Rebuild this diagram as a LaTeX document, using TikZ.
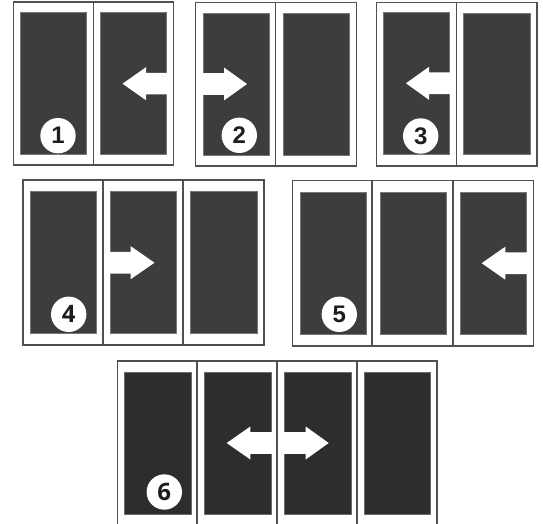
\documentclass[tikz,border=0pt]{standalone}
\usepackage{fontspec}
\setmainfont{Liberation Sans}
\newfontfamily\altdigit{Open Sans}
\definecolor{paneA}{HTML}{3D3D3D}
\definecolor{paneB}{HTML}{2E2C2D}
\definecolor{frameC}{HTML}{505050}
\definecolor{digitC}{HTML}{1D1D1B}
\tikzset{
  frameline/.style={draw=frameC,line width=1.9pt,fill=none},
  panedark/.style={fill=paneA,draw=paneA!70!white,line width=0.5pt},
  panedarker/.style={fill=paneB,draw=paneB!70!white,line width=0.5pt},
  arrowwhite/.style={fill=white,draw=none},
  badge/.style={circle,fill=white,draw=none,minimum size=35.4pt,inner sep=0pt,text=digitC,font=\fontsize{24}{24}\selectfont\bfseries},
  badgealt/.style={badge,font=\fontsize{24}{24}\selectfont\altdigit\bfseries}
}
% \arrowL{tip x}{back x}{shaft end x}{centre y}
\newcommand{\arrowL}[4]{\fill[arrowwhite] (#1,#4) -- (#2,#4-16.5) -- (#2,#4-10.8) -- (#3,#4-10.8) -- (#3,#4+10.8) -- (#2,#4+10.8) -- (#2,#4+16.5) -- cycle;}
\begin{document}
\begin{tikzpicture}[x=1pt,y=-1pt]
\useasboundingbox (0,0) rectangle (543,524);
\fill[white] (0,0) rectangle (543,524);
% panel 1
\fill[panedark] (20.5,12.5) rectangle (86.5,154.5);
\fill[panedark] (100.5,12.5) rectangle (166.5,154.5);
\arrowL{122.5}{146}{167.5}{83.7}
\draw[frameline] (13.5,2) rectangle (173.5,165);
\draw[frameline] (93.5,2) -- (93.5,165);
\node[badge] (n1) at (58,135.7) {1};
% panel 2
\fill[panedark] (203,13.5) rectangle (269.5,155);
\fill[panedark] (283,13.5) rectangle (349.5,155);
\arrowL{247}{224}{202}{84}
\draw[frameline] (195.5,2.5) rectangle (356.5,166);
\draw[frameline] (275.5,2.5) -- (275.5,166);
\node[badge] (n2) at (239.3,135.3) {2};
% panel 3
\fill[panedark] (383.5,12.5) rectangle (449.5,154.5);
\fill[panedark] (463.5,13) rectangle (530,154.5);
\arrowL{406}{429}{450.5}{83.3}
\draw[frameline] (376.5,2.5) rectangle (537,166);
\draw[frameline] (456.5,2.5) -- (456.5,166);
\node[badge] (n3) at (420.7,136) {3};
% panel 4
\fill[panedark] (30.3,191.5) rectangle (96.7,333.5);
\fill[panedark] (110.3,191.5) rectangle (176.5,333.5);
\fill[panedark] (190.3,191.5) rectangle (257,333.5);
\arrowL{154.5}{130.7}{109.5}{262.7}
\draw[frameline] (23.3,180) rectangle (264,345);
\draw[frameline] (102.8,180) -- (102.8,345);
\draw[frameline] (183,180) -- (183,345);
\node[badgealt] (n4) at (68.7,314.3) {4};
% panel 5
\fill[panedark] (300,192.3) rectangle (366,334);
\fill[panedark] (380,192.3) rectangle (446,334);
\fill[panedark] (460,192.3) rectangle (526,334);
\arrowL{481.7}{505.3}{527}{263.2}
\draw[frameline] (292.5,180.5) rectangle (533.5,345.7);
\draw[frameline] (372.3,180.5) -- (372.3,345.7);
\draw[frameline] (452.7,180.5) -- (452.7,345.7);
\node[badge] (n5) at (339.3,314.3) {5};
% panel 6
\fill[panedarker] (124.3,372.3) rectangle (191,514.3);
\fill[panedarker] (204.3,372.3) rectangle (271,514.3);
\fill[panedarker] (284.3,372.3) rectangle (351,514.3);
\fill[panedarker] (364.3,372.3) rectangle (430.7,514.3);
\arrowL{226.7}{250.3}{272}{443}
\arrowL{328.7}{305.7}{283.5}{443}
\fill[white] (271,432.2) rectangle (285,453.8);
\draw[frameline] (117.5,525) -- (117.5,361.3) -- (437.3,361.3) -- (437.3,525);
\draw[frameline] (197.3,361.3) -- (197.3,525);
\draw[frameline] (277.3,361.3) -- (277.3,525);
\draw[frameline] (357.3,361.3) -- (357.3,525);
\node[badgealt] (n6) at (164.3,492) {6};
\end{tikzpicture}
\end{document}
